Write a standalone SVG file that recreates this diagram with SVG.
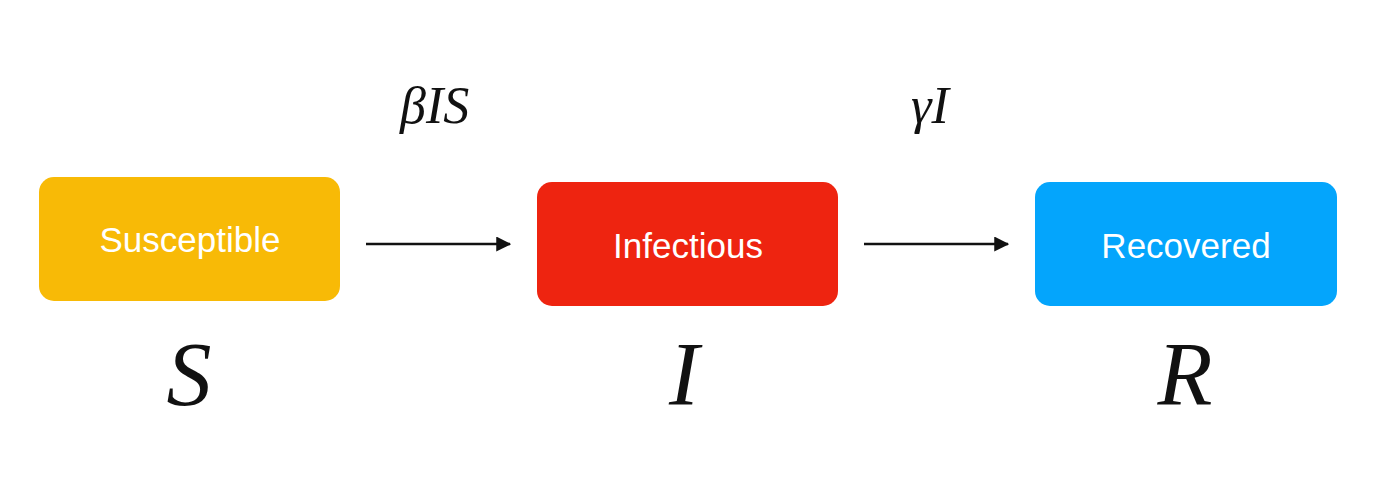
<svg xmlns="http://www.w3.org/2000/svg" width="1378" height="490" viewBox="0 0 1378 490">
  <style>
    .box-label { font-family: "Liberation Sans", Arial, sans-serif; font-size: 35px; fill: #ffffff; text-anchor: middle; }
    .math { font-family: "Liberation Serif", "Times New Roman", serif; font-style: italic; fill: #111111; }
    .rate { font-size: 52px; }
    .state { font-size: 90px; text-anchor: middle; }
    .edge { stroke: #111111; stroke-width: 2.5; fill: none; }
  </style>
  <defs>
    <marker id="arrow" viewBox="0 0 12 12" refX="11" refY="6" markerWidth="6" markerHeight="6" markerUnits="strokeWidth" orient="auto">
      <path d="M0,0 L12,6 L0,12 Z" fill="#111111"/>
    </marker>
  </defs>
  <rect width="1378" height="490" fill="#ffffff"/>

  <g id="susceptible">
    <rect x="39" y="177" width="301" height="124" rx="15" fill="#F8BA06"/>
    <text class="box-label" x="190" y="252">Susceptible</text>
  </g>
  <g id="infectious">
    <rect x="537" y="182" width="301" height="124" rx="15" fill="#EE2410"/>
    <text class="box-label" x="688" y="258">Infectious</text>
  </g>
  <g id="recovered">
    <rect x="1035" y="182" width="302" height="124" rx="15" fill="#04A5FC"/>
    <text class="box-label" x="1186" y="258">Recovered</text>
  </g>

  <g id="connectors">
    <line class="edge" x1="366" y1="244" x2="510" y2="244" marker-end="url(#arrow)"/>
    <line class="edge" x1="864" y1="244" x2="1008" y2="244" marker-end="url(#arrow)"/>
    <text class="math rate" x="400" y="123">βIS</text>
    <text class="math rate" x="911" y="123">γI</text>
  </g>

  <g id="symbols">
    <text class="math state" x="189" y="405">S</text>
    <text class="math state" x="684" y="405">I</text>
    <text class="math state" x="1185" y="405">R</text>
  </g>
</svg>
